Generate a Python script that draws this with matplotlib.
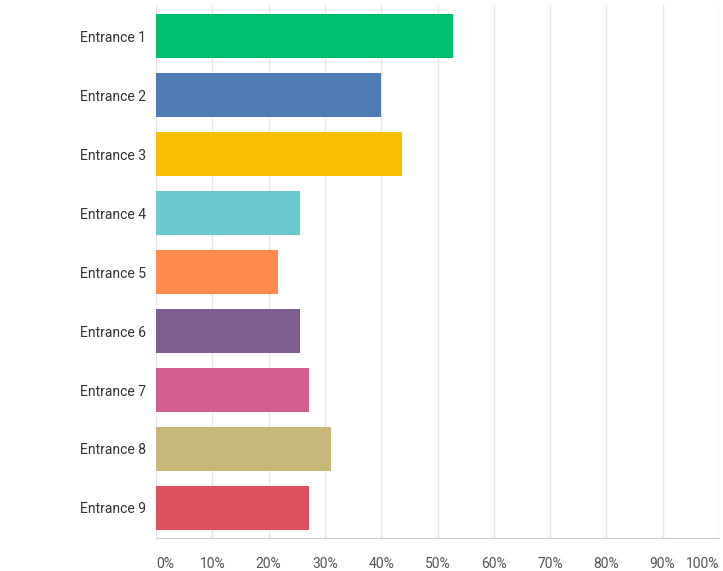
import matplotlib.pyplot as plt
from matplotlib.ticker import FuncFormatter

plt.rcParams['font.family'] = ['Roboto', 'DejaVu Sans']

# values
entrances = ['Entrance 1', 'Entrance 2', 'Entrance 3', 'Entrance 4', 'Entrance 5',
             'Entrance 6', 'Entrance 7', 'Entrance 8', 'Entrance 9']
shares = [52.8, 40.0, 43.7, 25.6, 21.7, 25.6, 27.2, 31.0, 27.2]
colors = ['#00BF6F', '#507CB6', '#F9BE00', '#6BC8CD', '#FF8B4F',
          '#7D5E90', '#D25F90', '#C7B879', '#DC5060']
xticks = list(range(0, 101, 10))

fig = plt.figure(figsize=(7.23, 5.71), dpi=100)
ax = fig.add_axes([0.2158, 0.0578, 0.7787, 0.9332])

ypos = list(range(len(entrances)))
ax.barh(ypos, shares, height=0.745, color=colors, zorder=3)

ax.set_xlim(0, 100)
ax.set_ylim(8.51, -0.53)
ax.set_yticks(ypos)
ax.set_yticklabels(entrances, fontsize=10, color='#333333')
ax.set_xticks(xticks)
ax.xaxis.set_major_formatter(FuncFormatter(lambda v, p: f'{v:.0f}%'))
for lab in ax.get_xticklabels():
    lab.set_fontsize(10)
    lab.set_color('#555555')
# first label starts at the axis, last one ends at the edge
ax.get_xticklabels()[0].set_horizontalalignment('left')
ax.get_xticklabels()[-1].set_horizontalalignment('right')

ax.tick_params(axis='both', length=0)
ax.tick_params(axis='y', pad=7)
ax.tick_params(axis='x', pad=14)

ax.grid(axis='x', color='#e8e8e8', linewidth=1, zorder=0)
for side in ['top', 'right', 'left']:
    ax.spines[side].set_visible(False)
ax.spines['bottom'].set_color('#cccccc')

fig.savefig('out.png', dpi=100)
